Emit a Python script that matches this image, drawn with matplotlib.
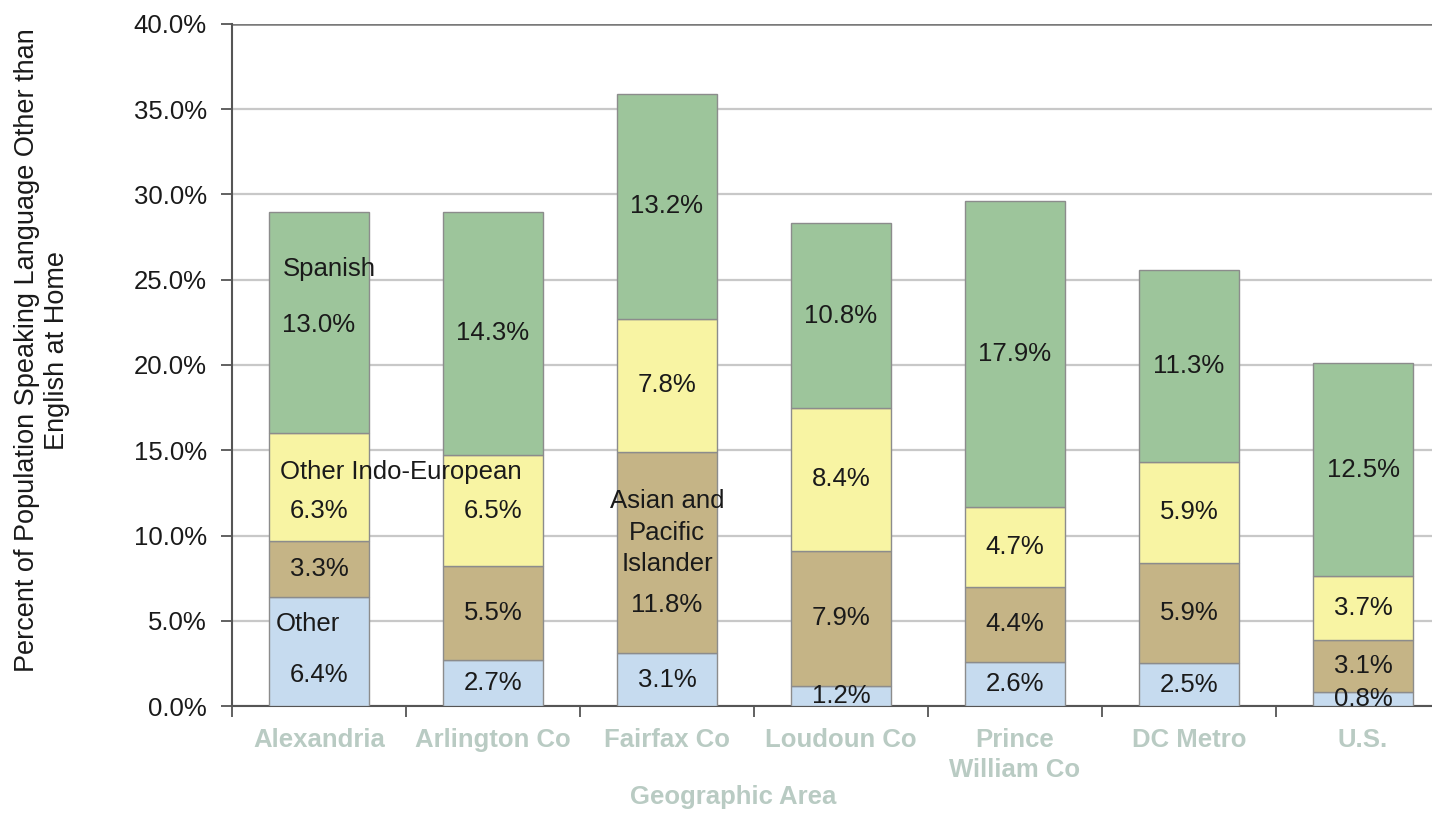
import matplotlib
matplotlib.use("Agg")
import matplotlib.pyplot as plt
import numpy as np

# Geographic areas and language-group shares (% of population)
areas = ["Alexandria", "Arlington Co", "Fairfax Co", "Loudoun Co",
         "Prince\nWilliam Co", "DC Metro", "U.S."]
series_names = ["Other", "Asian and Pacific Islander", "Other Indo-European", "Spanish"]
other = [6.4, 2.7, 3.1, 1.2, 2.6, 2.5, 0.8]
asian_pacific = [3.3, 5.5, 11.8, 7.9, 4.4, 5.9, 3.1]
indo_european = [6.3, 6.5, 7.8, 8.4, 4.7, 5.9, 3.7]
spanish = [13.0, 14.3, 13.2, 10.8, 17.9, 11.3, 12.5]
y_ticks = [0, 5, 10, 15, 20, 25, 30, 35, 40]

series = [other, asian_pacific, indo_european, spanish]
colors = ["#c6dbef", "#c5b486", "#f8f4a3", "#9dc59b"]

# In-bar series names: (bar, series) -> (text, dx px, dy px, ha, value dy px)
callouts = {
    (0, 3): ("Spanish", -36, 53, "left", -3),
    (0, 2): ("Other Indo-European", -39, 15, "left", -24),
    (0, 0): ("Other", -43, 27, "left", -24),
    (2, 1): ("Asian and\nPacific\nIslander", 0, 20, "center", -52),
}

plt.rcParams["font.family"] = ["Liberation Sans", "DejaVu Sans"]
FS = 18.5

W, H = 1432, 813
fig = plt.figure(figsize=(W / 100, H / 100), dpi=100)
ax_left, ax_right, ax_bottom, ax_top = 232, 1450, 706, 24
ax = fig.add_axes([ax_left / W, (H - ax_bottom) / H,
                   (ax_right - ax_left) / W, (ax_bottom - ax_top) / H])

x = np.arange(len(areas))
bar_w = 0.575
bottom = np.zeros(len(areas))
for si, vals in enumerate(series):
    vals = np.array(vals)
    ax.bar(x, vals, bar_w, bottom=bottom, color=colors[si],
           edgecolor="#8c8c8c", linewidth=1.0, zorder=3)
    for i, v in enumerate(vals):
        cy = bottom[i] + v / 2
        dy = 0
        if (i, si) in callouts:
            name, ndx, ndy, ha, dy = callouts[(i, si)]
            ax.annotate(name, (x[i], cy), xytext=(ndx, ndy),
                        textcoords="offset pixels", ha=ha, va="center",
                        fontsize=FS, color="#1a1a1a", linespacing=1.38,
                        multialignment="center", zorder=5)
        ax.annotate(f"{v:.1f}%", (x[i], cy), xytext=(0, dy),
                    textcoords="offset pixels", ha="center", va="center",
                    fontsize=FS, color="#1a1a1a", zorder=5)
    bottom = bottom + vals

ax.set_xlim(-0.5, len(areas) - 0.5)
ax.set_ylim(0, 40)
ax.set_yticks(y_ticks)
ax.set_yticklabels([f"{t:.1f}%" for t in y_ticks], fontsize=FS, color="#1a1a1a")
ax.yaxis.grid(True, color="#c8c8c8", linewidth=1.6, zorder=0)
ax.set_axisbelow(True)
ax.axhline(40, color="#7a7a7a", linewidth=1.8, zorder=1)

ax.set_xticks(x)
ax.set_xticklabels(areas, fontsize=FS, fontweight="bold", color="#b9cbc3",
                   linespacing=1.3)
ax.set_xticks(np.arange(-0.5, len(areas), 1.0), minor=True)
ax.tick_params(axis="x", which="major", length=0, pad=16)
ax.tick_params(axis="x", which="minor", length=8, width=1.3, color="#555555",
               direction="out")
ax.tick_params(axis="y", length=8, width=1.3, color="#555555", pad=10)

for s in ("top", "right"):
    ax.spines[s].set_visible(False)
for s in ("left", "bottom"):
    ax.spines[s].set_color("#555555")
    ax.spines[s].set_linewidth(1.5)

fig.text(42 / W, 1 - 350 / H,
         "Percent of Population Speaking Language Other than\nEnglish at Home",
         rotation=90, ha="center", va="center", fontsize=19.5, color="#1a1a1a",
         linespacing=1.22)
fig.text(733 / W, 1 - 797 / H, "Geographic Area", ha="center", va="center",
         fontsize=FS, fontweight="bold", color="#b9cbc3")

fig.savefig("out.png", dpi=100)
